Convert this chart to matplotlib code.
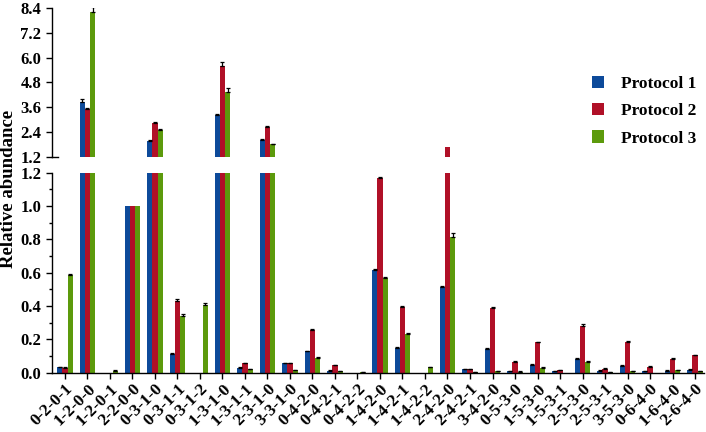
import numpy as np
import matplotlib
matplotlib.use("Agg")
import matplotlib.pyplot as plt
from matplotlib.ticker import MultipleLocator

# categorias (composicion de glicanos)
cats = ['0-2-0-1', '1-2-0-0', '1-2-0-1', '2-2-0-0', '0-3-1-0', '0-3-1-1', '0-3-1-2',
        '1-3-1-0', '1-3-1-1', '2-3-1-0', '3-3-1-0', '0-4-2-0', '0-4-2-1', '0-4-2-2',
        '1-4-2-0', '1-4-2-1', '1-4-2-2', '2-4-2-0', '2-4-2-1', '3-4-2-0', '0-5-3-0',
        '1-5-3-0', '1-5-3-1', '2-5-3-0', '2-5-3-1', '3-5-3-0', '0-6-4-0', '1-6-4-0',
        '2-6-4-0']

p1 = [0.032, 3.84, 0, 1.0, 1.98, 0.114, 0, 3.22, 0.03, 2.01, 0.058, 0.128, 0.012, 0,
      0.616, 0.15, 0, 0.514, 0.02, 0.144, 0.008, 0.048, 0.01, 0.084, 0.012, 0.042,
      0.008, 0.012, 0.018]
p2 = [0.03, 3.51, 0, 1.0, 2.85, 0.428, 0, 5.6, 0.056, 2.62, 0.056, 0.256, 0.046, 0,
      1.17, 0.396, 0, 1.65, 0.02, 0.388, 0.066, 0.182, 0.014, 0.282, 0.024, 0.186,
      0.036, 0.084, 0.104]
p3 = [0.586, 8.22, 0.012, 1.0, 2.49, 0.34, 0.406, 4.36, 0.02, 1.8, 0.016, 0.09, 0.008,
      0.004, 0.566, 0.232, 0.032, 0.816, 0.004, 0.01, 0.006, 0.03, 0, 0.066, 0.002,
      0.008, 0, 0.016, 0.01]

# errores (solo se dibuja la parte superior)
e1 = [0.004, 0.18, 0, 0, 0.04, 0.006, 0, 0.05, 0.003, 0.04, 0.003, 0.004, 0.002, 0,
      0.008, 0.005, 0, 0.006, 0.002, 0.005, 0.002, 0.004, 0.002, 0.004, 0.002, 0.003,
      0.002, 0.002, 0.003]
e2 = [0.003, 0.05, 0, 0, 0.05, 0.012, 0, 0.18, 0.004, 0.05, 0.003, 0.006, 0.003, 0,
      0.006, 0.006, 0, 0, 0.002, 0.005, 0.003, 0.005, 0.002, 0.01, 0.002, 0.005, 0.003,
      0.004, 0.004]
e3 = [0.008, 0.22, 0.003, 0, 0.03, 0.012, 0.012, 0.15, 0.003, 0.03, 0.003, 0.004,
      0.002, 0.002, 0.006, 0.005, 0.004, 0.02, 0.002, 0.002, 0.002, 0.003, 0, 0.005,
      0.001, 0.002, 0, 0.003, 0.002]

labels = ['Protocol 1', 'Protocol 2', 'Protocol 3']
colors = ['#0d4a9a', '#b01027', '#5c9a0c']

plt.rcParams['font.family'] = ['Liberation Serif', 'DejaVu Serif']
plt.rcParams['font.weight'] = 'bold'

fig = plt.figure(figsize=(7.06, 4.32), dpi=100)
ax_lo = fig.add_axes([0.0732, 0.1373, 0.924, 0.4629])
ax_hi = fig.add_axes([0.0732, 0.6373, 0.924, 0.3435])

x = np.arange(len(cats))
w = 0.233
series = [(p1, e1), (p2, e2), (p3, e3)]
split = 1.2

for ax, lo in ((ax_lo, True), (ax_hi, False)):
    for i, (vals, errs) in enumerate(series):
        pos = x + (i - 1) * w
        vals = np.array(vals)
        ax.bar(pos, vals, w, color=colors[i], label=labels[i], zorder=2)
        errs = np.array(errs)
        # cada barra de error va solo en el panel donde cae
        m = (errs > 0) & ((vals < split) if lo else (vals >= split))
        ax.errorbar(pos[m], vals[m], yerr=[np.zeros(m.sum()), errs[m]], fmt='none',
                    ecolor='black', elinewidth=0.9, capsize=1.5, capthick=0.9, zorder=3)
    ax.set_xlim(-0.59, 28.4)
    ax.spines['top'].set_visible(False)
    ax.spines['right'].set_visible(False)
    ax.spines['left'].set_linewidth(1.0)
    ax.spines['bottom'].set_linewidth(1.0)

# parte baja
ax_lo.set_ylim(0, split)
ax_lo.yaxis.set_major_locator(MultipleLocator(0.2))
ax_lo.yaxis.set_minor_locator(MultipleLocator(0.1))
ax_lo.yaxis.set_major_formatter(plt.FormatStrFormatter('%.1f'))
ax_lo.set_xticks(x)
ax_lo.set_xticklabels(cats, rotation=45, ha='right', va='top', rotation_mode='anchor')
ax_lo.tick_params(axis='both', which='major', direction='out', length=4, width=1,
                  labelsize=12)
ax_lo.tick_params(axis='y', which='minor', direction='out', length=2.5, width=1)
ax_lo.tick_params(axis='x', pad=2, labelsize=12.5)

# parte alta
ax_hi.set_ylim(split, 8.4)
ax_hi.set_yticks(np.arange(1.2, 8.5, 1.2))
ax_hi.yaxis.set_major_formatter(plt.FormatStrFormatter('%.1f'))
ax_hi.spines['bottom'].set_visible(False)
ax_hi.set_xticks([])
ax_hi.tick_params(axis='y', direction='out', length=4, width=1, labelsize=12)
ax_hi.plot([0, 0.01], [0, 0], transform=ax_hi.transAxes, color='black', lw=1,
           clip_on=False)

for t in ax_lo.get_xticklabels() + ax_lo.get_yticklabels() + ax_hi.get_yticklabels():
    t.set_fontweight('bold')

fig.text(0.012, 0.5625, 'Relative abundance', rotation=90, ha='center', va='center',
         fontsize=13.5, fontweight='bold')

h, l = ax_hi.get_legend_handles_labels()
fig.legend(h, l, loc='center left', bbox_to_anchor=(0.8385, 0.743), frameon=False,
           handlelength=0.7, handleheight=0.7, handletextpad=1.0, labelspacing=0.65,
           borderpad=0, borderaxespad=0, prop={'size': 12.5, 'weight': 'bold'})

fig.savefig('out.png', dpi=100)
